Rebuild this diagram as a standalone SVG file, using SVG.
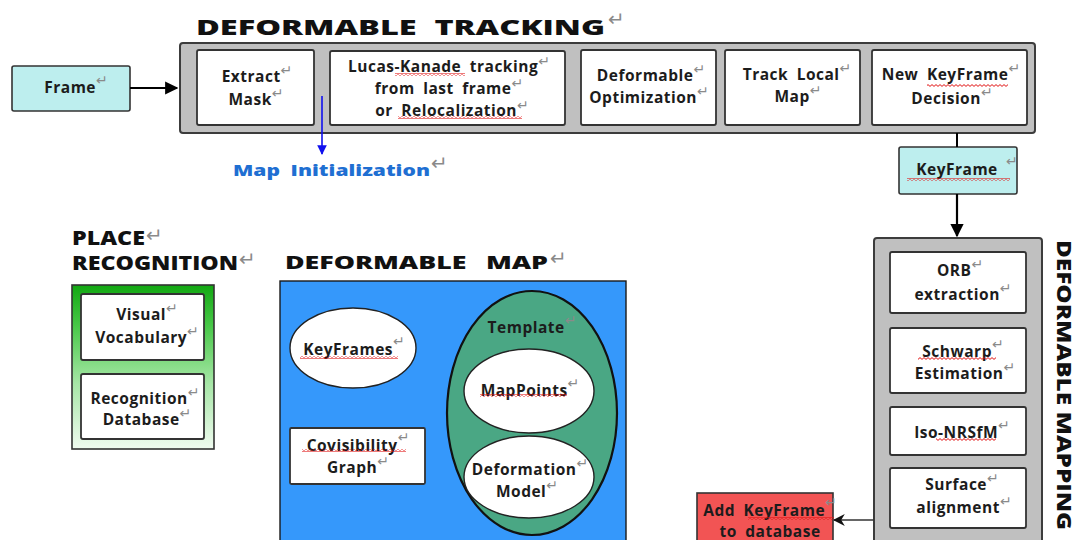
<svg xmlns="http://www.w3.org/2000/svg" width="1075" height="540" viewBox="0 0 1075 540">
  <defs>
    <style>
      .lbl { font-family: "Open Sans", "Liberation Sans", sans-serif; font-weight: 700; font-size: 15.5px; fill: #1c1c1c; text-anchor: middle; letter-spacing: 0.5px; word-spacing: 4px; }
      .head { font-family: "Open Sans", "Liberation Sans", sans-serif; font-weight: 800; fill: #111; }
      .pm { font-family: "DejaVu Sans", sans-serif; font-weight: 400; fill: #8a8a8a; font-size: 14px; letter-spacing: 0; }
      .pmh { font-family: "DejaVu Sans", sans-serif; font-weight: 400; fill: #8a8a8a; font-size: 20px; letter-spacing: 0; }
      .panel { fill: #c0c0c0; stroke: #3c3c3c; stroke-width: 2; }
      .box { fill: #ffffff; stroke: #333; stroke-width: 1.8; }
      .cyan { fill: #bdeeee; stroke: #333; stroke-width: 1.6; }
      .ell { fill: #ffffff; stroke: #222; stroke-width: 1.4; }
      .wire { fill: none; stroke: #000; stroke-width: 2.2; }
    </style>
    <pattern id="squiggle" width="4" height="3" patternUnits="userSpaceOnUse">
      <path d="M0 0.6 L2 2.4 L4 0.6" fill="none" stroke="#e01010" stroke-width="1"/>
    </pattern>
    <linearGradient id="greenFade" x1="0" y1="0" x2="0" y2="1">
      <stop offset="0" stop-color="#12a812"/>
      <stop offset="0.25" stop-color="#48c848"/>
      <stop offset="0.6" stop-color="#a6e6a6"/>
      <stop offset="1" stop-color="#f0fbf0"/>
    </linearGradient>
    <marker id="arrowBlack" viewBox="0 0 10 10" refX="9" refY="5" markerWidth="6" markerHeight="6" markerUnits="strokeWidth" orient="auto">
      <path d="M0 0 L10 5 L0 10 Z" fill="#000"/>
    </marker>
    <marker id="arrowBlue" viewBox="0 0 10 10" refX="9" refY="5" markerWidth="6" markerHeight="6" markerUnits="strokeWidth" orient="auto">
      <path d="M0 0 L10 5 L0 10 Z" fill="#1010ee"/>
    </marker>
    <marker id="arrowThin" viewBox="0 0 10 10" refX="9" refY="5" markerWidth="8" markerHeight="8" markerUnits="strokeWidth" orient="auto">
      <path d="M0 0 L10 5 L0 10 L3 5 Z" fill="#111"/>
    </marker>
  </defs>

  <rect width="1075" height="540" fill="#ffffff"/>

  <!-- headings -->
  <g id="headings">
    <text class="head" x="196" y="35" font-size="21" word-spacing="6" textLength="409" lengthAdjust="spacingAndGlyphs">DEFORMABLE TRACKING</text>
    <text class="pmh" x="608" y="26">↵</text>
    <text class="head" x="72" y="245" font-size="18.5" textLength="73" lengthAdjust="spacingAndGlyphs">PLACE</text>
    <text class="pmh" x="146" y="242">↵</text>
    <text class="head" x="72" y="270" font-size="18.5" textLength="166" lengthAdjust="spacingAndGlyphs">RECOGNITION</text>
    <text class="pmh" x="239" y="266">↵</text>
    <text class="head" x="285" y="269" font-size="17" word-spacing="8" textLength="263" lengthAdjust="spacingAndGlyphs">DEFORMABLE MAP</text>
    <text class="pmh" x="550" y="265">↵</text>
    <g transform="translate(1057 240) rotate(90)">
      <text class="head" x="0" y="0" font-size="20" textLength="290" lengthAdjust="spacingAndGlyphs">DEFORMABLE MAPPING</text>
    </g>
  </g>

  <!-- input frame -->
  <g id="frame">
    <rect class="cyan" x="12" y="66" width="118" height="45" rx="2"/>
    <text class="lbl" x="76" y="93" font-size="15.5">Frame<tspan class="pm" dy="-8">↵</tspan></text>
  </g>

  <!-- tracking thread -->
  <g id="tracking">
    <rect class="panel" x="180" y="43" width="855" height="90" rx="3"/>
    <g id="extract-mask">
      <rect class="box" x="197" y="50" width="117" height="75" rx="2"/>
      <text class="lbl" x="257" y="82">Extract<tspan class="pm" dy="-7">↵</tspan></text>
      <text class="lbl" x="256" y="105">Mask<tspan class="pm" dy="-7">↵</tspan></text>
    </g>
    <g id="lucas-kanade">
      <rect class="box" x="330" y="51" width="235" height="74" rx="2"/>
      <text class="lbl" x="449" y="72">Lucas-Kanade tracking<tspan class="pm" dy="-6">↵</tspan></text>
      <text class="lbl" x="449" y="94">from last frame<tspan class="pm" dy="-6">↵</tspan></text>
      <text class="lbl" x="452" y="116">or Relocalization<tspan class="pm" dy="-6">↵</tspan></text>
      <rect x="395" y="73" width="70" height="3" fill="url(#squiggle)"/>
      <rect x="398" y="116" width="124" height="3" fill="url(#squiggle)"/>
    </g>
    <g id="deformable-optimization">
      <rect class="box" x="581" y="50" width="135" height="75" rx="2"/>
      <text class="lbl" x="651" y="81">Deformable<tspan class="pm" dy="-7">↵</tspan></text>
      <text class="lbl" x="649" y="103">Optimization<tspan class="pm" dy="-7">↵</tspan></text>
    </g>
    <g id="track-local-map">
      <rect class="box" x="725" y="50" width="135" height="75" rx="2"/>
      <text class="lbl" x="797" y="80">Track Local<tspan class="pm" dy="-7">↵</tspan></text>
      <text class="lbl" x="798" y="102">Map<tspan class="pm" dy="-7">↵</tspan></text>
    </g>
    <g id="new-keyframe-decision">
      <rect class="box" x="872" y="50" width="155" height="75" rx="2"/>
      <text class="lbl" x="951" y="80">New KeyFrame<tspan class="pm" dy="-7">↵</tspan></text>
      <text class="lbl" x="952" y="104">Decision<tspan class="pm" dy="-7">↵</tspan></text>
      <rect x="927" y="84" width="81" height="3" fill="url(#squiggle)"/>
    </g>
  </g>

  <!-- map initialization label -->
  <g id="map-initialization">
    <text class="head" x="233" y="176" font-size="16.5" word-spacing="4" style="fill:#1f6fd2" textLength="197" lengthAdjust="spacingAndGlyphs">Map Initialization</text>
    <text class="pmh" x="431" y="170" font-size="18">↵</text>
  </g>

  <!-- keyframe -->
  <g id="keyframe">
    <rect class="cyan" x="899" y="147" width="118" height="47" rx="2"/>
    <text class="lbl" x="957" y="175" font-size="16.5">KeyFrame</text>
    <text class="pm" x="1006" y="166">↵</text>
    <rect x="907" y="178" width="103" height="3" fill="url(#squiggle)"/>
  </g>

  <!-- place recognition -->
  <g id="place-recognition">
    <rect x="72" y="285" width="142" height="164" fill="url(#greenFade)" stroke="#333" stroke-width="1.6"/>
    <g id="visual-vocabulary">
      <rect class="box" x="81" y="294" width="123" height="66" rx="2"/>
      <text class="lbl" x="147" y="320">Visual<tspan class="pm" dy="-7">↵</tspan></text>
      <text class="lbl" x="147" y="343">Vocabulary<tspan class="pm" dy="-7">↵</tspan></text>
    </g>
    <g id="recognition-database">
      <rect class="box" x="81" y="374" width="123" height="65" rx="2"/>
      <text class="lbl" x="145" y="404">Recognition<tspan class="pm" dy="-7">↵</tspan></text>
      <text class="lbl" x="147" y="425">Database<tspan class="pm" dy="-7">↵</tspan></text>
    </g>
  </g>

  <!-- deformable map -->
  <g id="deformable-map">
    <rect x="280" y="281" width="346" height="262" fill="#3598fb" stroke="#1a1a1a" stroke-width="1.4"/>
    <g id="keyframes">
      <ellipse class="ell" cx="353" cy="348" rx="63" ry="40"/>
      <text class="lbl" x="354" y="355">KeyFrames<tspan class="pm" dy="-9">↵</tspan></text>
      <rect x="300" y="356" width="98" height="3" fill="url(#squiggle)"/>
    </g>
    <g id="covisibility-graph">
      <rect class="box" x="290" y="428" width="135" height="56" rx="1.5" stroke-width="1.4"/>
      <text class="lbl" x="358" y="451">Covisibility<tspan class="pm" dy="-9">↵</tspan></text>
      <text class="lbl" x="358" y="473">Graph<tspan class="pm" dy="-7">↵</tspan></text>
      <rect x="302" y="449" width="104" height="3" fill="url(#squiggle)"/>
    </g>
    <g id="template">
      <ellipse cx="532" cy="413" rx="85" ry="122" fill="#4aa784" stroke="#111" stroke-width="2.2"/>
      <text class="lbl" x="532" y="333">Template<tspan class="pm" dy="-8">↵</tspan></text>
      <g id="mappoints">
        <ellipse class="ell" cx="529" cy="391" rx="65" ry="42"/>
        <text class="lbl" x="530" y="396">MapPoints<tspan class="pm" dy="-8">↵</tspan></text>
        <rect x="480" y="394" width="87" height="3" fill="url(#squiggle)"/>
      </g>
      <g id="deformation-model">
        <ellipse class="ell" cx="529" cy="477" rx="65" ry="41"/>
        <text class="lbl" x="530" y="475">Deformation<tspan class="pm" dy="-7">↵</tspan></text>
        <text class="lbl" x="527" y="497">Model<tspan class="pm" dy="-7">↵</tspan></text>
      </g>
    </g>
  </g>

  <!-- deformable mapping thread -->
  <g id="mapping">
    <rect class="panel" x="874" y="238" width="168" height="310" rx="3"/>
    <g id="orb-extraction">
      <rect class="box" x="890" y="252" width="136" height="61" rx="2"/>
      <text class="lbl" x="960" y="276">ORB<tspan class="pm" dy="-7">↵</tspan></text>
      <text class="lbl" x="963" y="300">extraction<tspan class="pm" dy="-7">↵</tspan></text>
    </g>
    <g id="schwarp-estimation">
      <rect class="box" x="890" y="328" width="136" height="65" rx="2"/>
      <text class="lbl" x="963" y="357">Schwarp<tspan class="pm" dy="-8">↵</tspan></text>
      <text class="lbl" x="965" y="379">Estimation<tspan class="pm" dy="-7">↵</tspan></text>
      <rect x="918" y="357" width="78" height="3" fill="url(#squiggle)"/>
    </g>
    <g id="iso-nrsfm">
      <rect class="box" x="890" y="407" width="136" height="48" rx="2"/>
      <text class="lbl" x="962" y="438">Iso-NRSfM<tspan class="pm" dy="-8">↵</tspan></text>
      <rect x="936" y="438" width="60" height="3" fill="url(#squiggle)"/>
    </g>
    <g id="surface-alignment">
      <rect class="box" x="890" y="468" width="136" height="60" rx="2"/>
      <text class="lbl" x="962" y="490">Surface<tspan class="pm" dy="-7">↵</tspan></text>
      <text class="lbl" x="964" y="513">alignment<tspan class="pm" dy="-7">↵</tspan></text>
    </g>
  </g>

  <!-- add keyframe to database -->
  <g id="add-keyframe">
    <rect x="697" y="493" width="136" height="55" fill="#f25454" stroke="#333" stroke-width="1.6"/>
    <text class="lbl" x="770" y="516">Add KeyFrame<tspan class="pm" dy="-9">↵</tspan></text>
    <text class="lbl" x="770" y="537">to database</text>
    <rect x="748" y="517" width="86" height="3" fill="url(#squiggle)"/>
  </g>

  <!-- connectors, drawn over the panels -->
  <g id="connectors">
    <line class="wire" x1="130" y1="88" x2="177" y2="88" marker-end="url(#arrowBlack)"/>
    <line x1="322" y1="96" x2="322" y2="154" stroke="#1010ee" stroke-width="1.6" marker-end="url(#arrowBlue)"/>
    <line x1="957" y1="133" x2="957" y2="147" stroke="#000" stroke-width="2"/>
    <line class="wire" x1="957" y1="194" x2="957" y2="236" marker-end="url(#arrowBlack)"/>
    <line x1="874" y1="520" x2="834" y2="520" stroke="#333" stroke-width="1.5" marker-end="url(#arrowThin)"/>
  </g>
</svg>
